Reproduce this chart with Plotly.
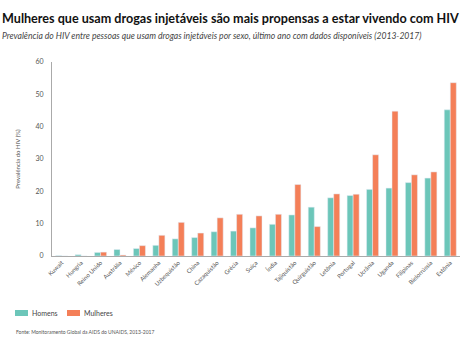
import plotly.graph_objects as go

paises = ["Kuwait", "Hungria", "Reino Unido", "Austrália", "México", "Alemanha",
          "Uzbequistão", "China", "Cazaquistão", "Grécia", "Suíça", "Índia",
          "Tajiquistão", "Quirguistão", "Letônia", "Portugal", "Ucrânia",
          "Uganda", "Filipinas", "Bielorrússia", "Estônia"]
homens = [0.1, 0.4, 1.1, 2.0, 2.3, 3.3, 5.3, 5.7, 7.5, 7.7, 8.7, 9.8,
          12.7, 15.1, 18.0, 18.7, 20.6, 21.0, 22.7, 24.1, 45.2]
mulheres = [0.0, 0.0, 1.2, 0.3, 3.2, 6.4, 10.4, 7.1, 11.8, 12.9, 12.4, 12.9,
            22.1, 9.1, 19.2, 19.1, 31.3, 44.8, 25.1, 26.0, 53.6]
y_ticks = [0, 10, 20, 30, 40, 50, 60]

TEAL = "#6cc6b9"
ORANGE = "#f47f58"
GREY_TXT = "#666666"
FONT = "Lato"

fig = go.Figure()
fig.add_trace(go.Bar(x=paises, y=homens, name="Homens", marker_color=TEAL,
                     showlegend=False))
fig.add_trace(go.Bar(x=paises, y=mulheres, name="Mulheres", marker_color=ORANGE,
                     showlegend=False))

fig.update_layout(
    width=474, height=340,
    margin=dict(l=52, r=14, t=62, b=84),
    paper_bgcolor="white", plot_bgcolor="white",
    barmode="group", bargap=0.38, bargroupgap=0,
    font=dict(family=FONT, color=GREY_TXT),
)
fig.update_xaxes(
    showgrid=False, showline=True, linecolor="#aaaaaa", linewidth=1,
    tickangle=-45, tickfont=dict(size=6, color="#555555"), ticks="",
)
fig.update_yaxes(
    range=[0, 60], tickvals=y_ticks, showgrid=False, zeroline=False,
    showline=True, linecolor="#aaaaaa", linewidth=1, ticks="",
    tickfont=dict(size=7, color="#555555"), ticklabelstandoff=6,
    title=dict(text="Prevalência do HIV (%)", font=dict(size=6, color="#555555"),
               standoff=14),
)

# Title and subtitle
fig.add_annotation(text="<b>Mulheres que usam drogas injetáveis são mais propensas a estar vivendo com HIV</b>",
                   xref="paper", yref="paper", x=-52/408, y=1 + 43/194,
                   xanchor="left", yanchor="middle", showarrow=False,
                   font=dict(size=12.6, color="#111111", family=FONT))
fig.add_annotation(text="<i>Prevalência do HIV entre pessoas que usam drogas injetáveis por sexo, último ano com dados disponíveis (2013-2017)</i>",
                   xref="paper", yref="paper", x=-52/408 + 0.0, y=1 + 26/194,
                   xanchor="left", yanchor="middle", showarrow=False,
                   font=dict(size=8.6, color="#444444", family=FONT))

# Legend drawn as swatches + labels
def px_x(px):
    return (px - 52) / 408

def px_y(py):
    return (256 - py) / 194

for x0, color, label in [(15, TEAL, "Homens"), (67, ORANGE, "Mulheres")]:
    fig.add_shape(type="rect", xref="paper", yref="paper",
                  x0=px_x(x0), x1=px_x(x0 + 13), y0=px_y(316), y1=px_y(310),
                  fillcolor=color, line_width=0)
    fig.add_annotation(text=label, xref="paper", yref="paper",
                       x=px_x(x0 + 15), y=px_y(313), xanchor="left", yanchor="middle",
                       showarrow=False, font=dict(size=7, color="#444444", family=FONT))

fig.add_annotation(text="Fonte: Monitoramento Global da AIDS do UNAIDS, 2013-2017",
                   xref="paper", yref="paper", x=px_x(14), y=px_y(332),
                   xanchor="left", yanchor="middle", showarrow=False,
                   font=dict(size=5, color="#555555", family=FONT))

fig.write_html("out.html")
